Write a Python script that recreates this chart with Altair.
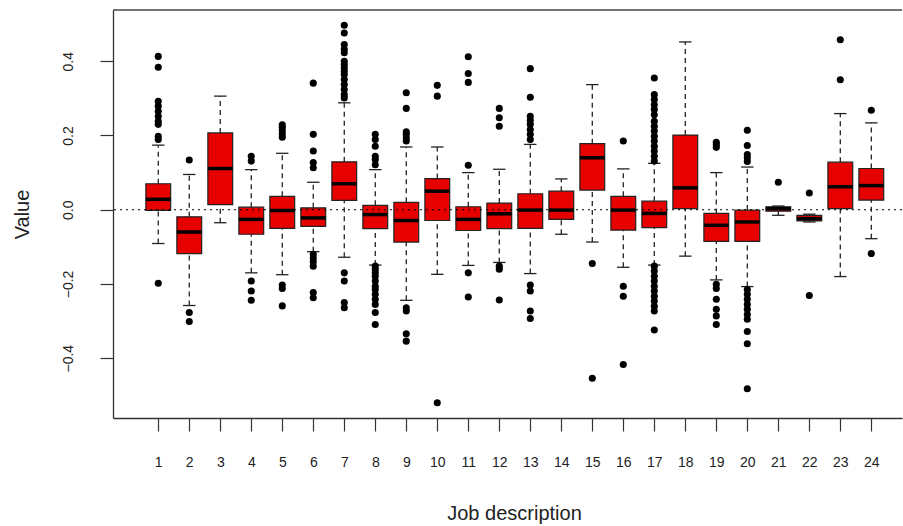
import altair as alt
import pandas as pd

groups = list(range(1, 25))
q1 = [-0.002, -0.118, 0.014, -0.066, -0.050, -0.045, 0.025, -0.051, -0.087, -0.029, -0.056, -0.051,
      -0.050, -0.026, 0.053, -0.055, -0.048, 0.003, -0.085, -0.085, -0.004, -0.030, 0.003, 0.026]
median = [0.028, -0.060, 0.111, -0.026, -0.002, -0.022, 0.070, -0.013, -0.029, 0.050, -0.026, -0.011,
          -0.001, -0.001, 0.140, -0.001, -0.010, 0.059, -0.042, -0.033, 0.003, -0.024, 0.062, 0.065]
q3 = [0.070, -0.019, 0.207, 0.007, 0.036, 0.005, 0.129, 0.012, 0.020, 0.084, 0.008, 0.018,
      0.043, 0.050, 0.178, 0.036, 0.023, 0.201, -0.010, -0.001, 0.008, -0.015, 0.128, 0.111]
whisker_lo = [-0.091, -0.258, -0.035, -0.170, -0.175, -0.113, -0.128, -0.149, -0.244, -0.174, -0.150, -0.142,
              -0.172, -0.066, -0.087, -0.155, -0.149, -0.125, -0.189, -0.207, -0.015, -0.033, -0.180, -0.078]
whisker_hi = [0.174, 0.095, 0.306, 0.108, 0.152, 0.074, 0.288, 0.108, 0.169, 0.169, 0.100, 0.109,
              0.176, 0.083, 0.337, 0.110, 0.125, 0.452, 0.100, 0.115, 0.010, -0.012, 0.259, 0.234]

outliers = {
    1: [0.413, 0.384, 0.292, 0.279, 0.265, 0.252, 0.238, 0.230, 0.198, 0.189, -0.198],
    2: [0.134, -0.277, -0.301],
    4: [0.144, 0.131, -0.192, -0.219, -0.244],
    5: [0.229, 0.222, 0.213, 0.204, 0.195, -0.203, -0.212, -0.259],
    6: [0.341, 0.203, 0.158, 0.127, 0.113, -0.120, -0.130, -0.140, -0.152, -0.223, -0.237],
    7: [0.497, 0.476, 0.445, 0.432, 0.423, 0.400, 0.391, 0.382, 0.373, 0.364, 0.351, 0.337,
        0.324, 0.310, 0.301, -0.170, -0.192, -0.250, -0.264],
    8: [0.203, 0.189, 0.171, 0.144, 0.135, 0.121, -0.152, -0.161, -0.170, -0.179, -0.192, -0.206,
        -0.215, -0.228, -0.241, -0.255, -0.277, -0.309],
    9: [0.315, 0.273, 0.210, 0.203, 0.194, 0.185, -0.264, -0.273, -0.334, -0.354],
    10: [0.335, 0.306, -0.520],
    11: [0.412, 0.367, 0.343, 0.120, -0.170, -0.235],
    12: [0.273, 0.248, 0.225, -0.152, -0.160, -0.243],
    13: [0.380, 0.303, 0.252, 0.241, 0.230, 0.216, 0.203, 0.189, -0.203, -0.219, -0.273, -0.293],
    15: [-0.145, -0.454],
    16: [0.185, -0.206, -0.233, -0.417],
    17: [0.355, 0.310, 0.297, 0.283, 0.270, 0.256, 0.238, 0.225, 0.212, 0.198, 0.185, 0.171,
         0.158, 0.144, 0.131, -0.152, -0.165, -0.179, -0.192, -0.206, -0.219, -0.233, -0.246,
         -0.260, -0.273, -0.324],
    19: [0.182, 0.175, 0.168, -0.201, -0.212, -0.241, -0.268, -0.286, -0.309],
    20: [0.214, 0.173, 0.149, 0.140, 0.130, -0.215, -0.228, -0.241, -0.255, -0.268, -0.282,
         -0.295, -0.328, -0.361, -0.482],
    21: [0.074],
    22: [0.045, -0.231],
    23: [0.458, 0.350],
    24: [0.268, -0.118],
}

x_ticks = groups
y_ticks = [-0.4, -0.2, 0.0, 0.2, 0.4]

box_df = pd.DataFrame({
    "g": groups, "q1": q1, "med": median, "q3": q3, "lo": whisker_lo, "hi": whisker_hi,
})
box_df["xl"] = box_df["g"] - 0.4
box_df["xr"] = box_df["g"] + 0.4
box_df["sl"] = box_df["g"] - 0.2
box_df["sr"] = box_df["g"] + 0.2

out_rows = [{"g": g, "v": v} for g, vals in outliers.items() for v in vals]
out_df = pd.DataFrame(out_rows)

XDOM = [-0.46, 24.99]
YDOM = [-0.561, 0.538]
xs = alt.Scale(domain=XDOM, nice=False, zero=False)
ys = alt.Scale(domain=YDOM, nice=False, zero=False)

FONT = "Liberation Sans"
RED = "#e60000"
EDGE = "#222222"

base = alt.Chart(box_df)

x_axis = alt.Axis(values=x_ticks, title="Job description", titleX=401, titleY=95)
y_axis = alt.Axis(values=y_ticks, title="Value", format=".1f", titleX=-91, titleY=204)

upper_wh = base.mark_rule(color=EDGE, strokeDash=[5, 4], strokeWidth=1.3).encode(
    x=alt.X("g:Q", scale=xs, axis=x_axis),
    y=alt.Y("q3:Q", scale=ys, axis=y_axis),
    y2="hi:Q",
)
lower_wh = base.mark_rule(color=EDGE, strokeDash=[5, 4], strokeWidth=1.3).encode(
    x=alt.X("g:Q", scale=xs, axis=x_axis), y=alt.Y("lo:Q", scale=ys, axis=y_axis), y2="q1:Q",
)
staple_hi = base.mark_rule(color=EDGE, strokeWidth=1.3).encode(
    x=alt.X("sl:Q", scale=xs, axis=x_axis), x2="sr:Q", y=alt.Y("hi:Q", scale=ys, axis=y_axis),
)
staple_lo = base.mark_rule(color=EDGE, strokeWidth=1.3).encode(
    x=alt.X("sl:Q", scale=xs, axis=x_axis), x2="sr:Q", y=alt.Y("lo:Q", scale=ys, axis=y_axis),
)
boxes = base.mark_rect(fill=RED, stroke=EDGE, strokeWidth=1.2).encode(
    x=alt.X("xl:Q", scale=xs, axis=x_axis), x2="xr:Q",
    y=alt.Y("q1:Q", scale=ys, axis=y_axis), y2="q3:Q",
)
medians = base.mark_rule(color="#000000", strokeWidth=3.5).encode(
    x=alt.X("xl:Q", scale=xs, axis=x_axis), x2="xr:Q", y=alt.Y("med:Q", scale=ys, axis=y_axis),
)
points = alt.Chart(out_df).mark_circle(color="#000000", opacity=1, size=50).encode(
    x=alt.X("g:Q", scale=xs, axis=x_axis), y=alt.Y("v:Q", scale=ys, axis=y_axis),
)
zero_line = alt.Chart(pd.DataFrame({"y": [0.0]})).mark_rule(
    color="#000000", strokeDash=[2, 4], strokeWidth=1.2
).encode(y=alt.Y("y:Q", scale=ys, axis=y_axis))
top_border = alt.Chart(pd.DataFrame({"y": [YDOM[1]]})).mark_rule(
    color="#444", strokeWidth=1.5
).encode(y=alt.Y("y:Q", scale=ys, axis=y_axis))

chart = alt.layer(
    upper_wh, lower_wh, staple_hi, staple_lo, boxes, medians, points, zero_line, top_border
).properties(
    width=789, height=408,
    autosize=alt.AutoSizeParams(type="none"),
    padding={"left": 113, "top": 10, "right": 1, "bottom": 108},
    background="white",
).configure_view(stroke=None).configure_axis(
    grid=False, tickSize=13, labelFontSize=14, labelColor="#222", labelFont=FONT,
    titleFont=FONT, titleFontSize=20, titleFontWeight="normal", titleColor="#222",
    titleAlign="center", titleBaseline="middle", domainColor="#333", tickColor="#333",
    domainWidth=1.3, tickWidth=1.2, labelFlush=False, labelOverlap=False,
).configure_axisX(
    labelPadding=31, labelBaseline="middle", labelAlign="center", labelAngle=0,
).configure_axisY(
    labelAngle=-90, labelAlign="center", labelBaseline="middle", labelPadding=32, titleAngle=-90,
)

chart.save("out.html", embed_options={"renderer": "svg", "actions": False})
